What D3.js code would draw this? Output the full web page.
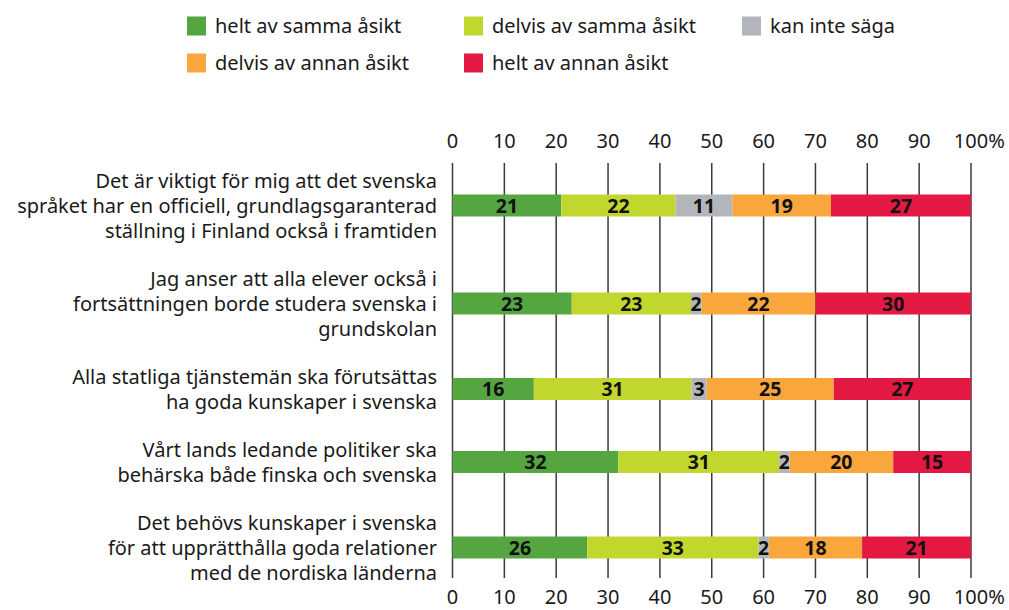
<!DOCTYPE html>
<html>
<head>
<meta charset="utf-8">
<script src="https://cdn.jsdelivr.net/npm/d3@7"></script>
<style>
  body { margin: 0; background: #fff; }
  svg { font-family: "Noto Sans", sans-serif; }
</style>
</head>
<body>
<svg id="chart" width="1009" height="610"></svg>
<script>
// statements, one array of lines per row
var categories = [
  ["Det är viktigt för mig att det svenska", "språket har en officiell, grundlagsgaranterad", "ställning i Finland också i framtiden"],
  ["Jag anser att alla elever också i", "fortsättningen borde studera svenska i", "grundskolan"],
  ["Alla statliga tjänstemän ska förutsättas", "ha goda kunskaper i svenska"],
  ["Vårt lands ledande politiker ska", "behärska både finska och svenska"],
  ["Det behövs kunskaper i svenska", "för att upprätthålla goda relationer", "med de nordiska länderna"]
];

var seriesNames = ["helt av samma åsikt", "delvis av samma åsikt", "kan inte säga", "delvis av annan åsikt", "helt av annan åsikt"];
var seriesColors = ["#55a540", "#c1d72e", "#b2b6bb", "#f9a63c", "#e31944"];

var heltSamma   = [21, 23, 16, 32, 26];
var delvisSamma = [22, 23, 31, 31, 33];
var kanInte     = [11, 2, 3, 2, 2];
var delvisAnnan = [19, 22, 25, 20, 18];
var heltAnnan   = [27, 30, 27, 15, 21];

var tickValues = [0, 10, 20, 30, 40, 50, 60, 70, 80, 90, 100];
var tickLabels = ["0", "10", "20", "30", "40", "50", "60", "70", "80", "90", "100"];

var svg = d3.select("#chart");

// build rows for d3.stack
var keys = ["a", "b", "c", "d", "e"];
var allSeries = [heltSamma, delvisSamma, kanInte, delvisAnnan, heltAnnan];
var rows = categories.map(function(c, i) {
  var r = { idx: i, lines: c };
  keys.forEach(function(k, j) { r[k] = allSeries[j][i]; });
  return r;
});

var stacked = d3.stack().keys(keys).offset(d3.stackOffsetExpand)(rows);

var x = d3.scaleLinear().domain([0, 1]).range([452.5, 971]);

// vertical layout: each row takes (lines + gap) line units
var gap = 0.92;
var offsets = [];
var acc = 0;
rows.forEach(function(r) {
  var h = r.lines.length + gap;
  offsets.push(acc + h / 2);
  acc += h;
});
var y = d3.scaleLinear().domain([0, acc]).range([156.5, 596.5]);
var lineH = y(1) - y(0);
var barH = 22;
var gridTop = 163, gridBottom = 578;

// gridlines
svg.append("g")
  .selectAll("line")
  .data(tickValues)
  .join("line")
  .attr("x1", function(d) { return x(d / 100); })
  .attr("x2", function(d) { return x(d / 100); })
  .attr("y1", gridTop)
  .attr("y2", gridBottom)
  .attr("stroke", "#3a3a3a")
  .attr("stroke-width", 1.5);

// top + bottom tick labels
[148, 604].forEach(function(base) {
  var g = svg.append("g");
  g.selectAll("text")
    .data(tickValues)
    .join("text")
    .attr("x", function(d) { return x(d / 100); })
    .attr("y", base)
    .attr("text-anchor", "middle")
    .attr("font-size", 20)
    .attr("fill", "#1a1a1a")
    .text(function(d, i) { return tickLabels[i]; })
    .filter(function(d) { return d === 100; })
    .append("tspan").text("%");
  // keep the number centered on the line, % hangs to the right
  g.selectAll("text").filter(function(d) { return d === 100; })
    .attr("text-anchor", "start")
    .attr("x", function(d) {
      var w = this.getComputedTextLength();
      var pw = this.lastChild.getComputedTextLength();
      return x(1) - (w - pw) / 2;
    });
});

// bars
var layer = svg.append("g")
  .selectAll("g")
  .data(stacked)
  .join("g")
  .attr("fill", function(d, i) { return seriesColors[i]; });

layer.selectAll("rect")
  .data(function(d) { return d; })
  .join("rect")
  .attr("x", function(d) { return x(d[0]); })
  .attr("width", function(d) { return x(d[1]) - x(d[0]); })
  .attr("y", function(d, i) { return y(offsets[i]) - barH / 2; })
  .attr("height", barH);

// value labels
layer.selectAll("text")
  .data(function(s) { return s.map(function(d) { return { d: d, v: d.data[s.key] }; }); })
  .join("text")
  .attr("x", function(o) { return (x(o.d[0]) + x(o.d[1])) / 2; })
  .attr("y", function(o, i) { return y(offsets[i]); })
  .attr("dy", "0.36em")
  .attr("text-anchor", "middle")
  .attr("font-size", 19.5)
  .attr("font-weight", "bold")
  .attr("fill", "#111")
  .text(function(o) { return o.v; });

// category labels
var catG = svg.append("g")
  .selectAll("text")
  .data(rows)
  .join("text")
  .attr("text-anchor", "end")
  .attr("font-size", 20)
  .attr("fill", "#1a1a1a");

catG.selectAll("tspan")
  .data(function(r) {
    var n = r.lines.length;
    return r.lines.map(function(t, k) { return { t: t, k: k, n: n, i: r.idx }; });
  })
  .join("tspan")
  .attr("x", 437)
  .attr("y", function(o) { return y(offsets[o.i]) + (o.k - (o.n - 1) / 2) * lineH; })
  .attr("dy", "0.36em")
  .text(function(o) { return o.t; });

// legend
var legendPos = [[187, 26], [464, 26], [742, 26], [187, 63], [464, 63]];
var leg = svg.append("g")
  .selectAll("g")
  .data(seriesNames)
  .join("g")
  .attr("transform", function(d, i) { return "translate(" + legendPos[i][0] + "," + legendPos[i][1] + ")"; });

leg.append("rect")
  .attr("x", 0).attr("y", -9.5)
  .attr("width", 19).attr("height", 19)
  .attr("fill", function(d, i) { return seriesColors[i]; });

leg.append("text")
  .attr("x", 28)
  .attr("dy", "0.36em")
  .attr("font-size", 20)
  .attr("fill", "#1a1a1a")
  .text(function(d) { return d; });
</script>
</body>
</html>
